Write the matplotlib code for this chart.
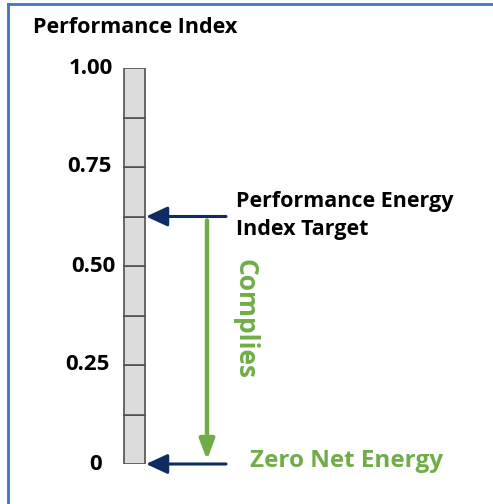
import matplotlib
matplotlib.use("Agg")
import matplotlib.pyplot as plt
from matplotlib.lines import Line2D
import numpy as np

plt.rcParams['font.family'] = ['Open Sans', 'DejaVu Sans']

# data
tick_values = [1.00, 0.75, 0.50, 0.25, 0.0]
tick_labels = ['1.00', '0.75', '0.50', '0.25', '0']
cell_bottoms = [0.0, 0.125, 0.25, 0.375, 0.5, 0.625, 0.75, 0.875]
target = 0.625
zero_net = 0.0

navy = '#0d2d62'
green = '#70ad47'
border = '#4472c4'

# label boxes are not quite lined up in the original
label_x = [90.5, 89.5, 93.5, 87.5, 96]

fig = plt.figure(figsize=(4.93, 5.04), dpi=100)
# horizontal unit = pixels, vertical unit = index value
ax = fig.add_axes([0, (504 - 464) / 504, 1, 396 / 504])
ax.set_xlim(0, 493)
ax.set_ylim(0, 1)
ax.axis('off')

# the scale bar
ax.bar(134.5, 0.125, width=21, bottom=cell_bottoms, color='#dcdcdc',
       edgecolor='#505050', linewidth=1.2, zorder=2)

for x, v, lab in zip(label_x, tick_values, tick_labels):
    ax.text(x, v, lab, ha='center', va='center', fontsize=16,
            fontweight='bold', color='black')

ax.text(33, 1.1035, 'Performance Index', ha='left', va='center',
        fontsize=15.5, fontweight='bold', clip_on=False)

# navy arrows pointing to the bar
for y in [target, zero_net]:
    ax.annotate('', xy=(146, y), xytext=(226, y),
                arrowprops=dict(arrowstyle='-|>,head_length=1.3,head_width=0.6',
                                color=navy, lw=2.2, shrinkA=0, shrinkB=0),
                annotation_clip=False)

# green "complies" arrow
ax.annotate('', xy=(207, zero_net + 0.01), xytext=(207, target - 0.01),
            arrowprops=dict(arrowstyle='-|>,head_length=1.2,head_width=0.45',
                            color=green, lw=3.2, shrinkA=0, shrinkB=0),
            annotation_clip=False)

ax.text(236, target + 0.002, 'Performance Energy\nIndex Target', ha='left',
        va='center', fontsize=15.5, fontweight='bold', linespacing=1.42)
ax.text(245, 0.366, 'Complies', rotation=-90, ha='center', va='center',
        fontsize=19, fontweight='bold', color=green)
ax.text(250, zero_net + 0.008, 'Zero Net Energy', ha='left', va='center',
        fontsize=17.5, fontweight='bold', color=green)

# frame lines at top and left
fig.add_artist(Line2D([8 / 493, 1], [1 - 4 / 504, 1 - 4 / 504],
                      transform=fig.transFigure, color=border, lw=2))
fig.add_artist(Line2D([8 / 493, 8 / 493], [0, 1 - 4 / 504],
                      transform=fig.transFigure, color=border, lw=2))

fig.savefig('out.png', dpi=100)
